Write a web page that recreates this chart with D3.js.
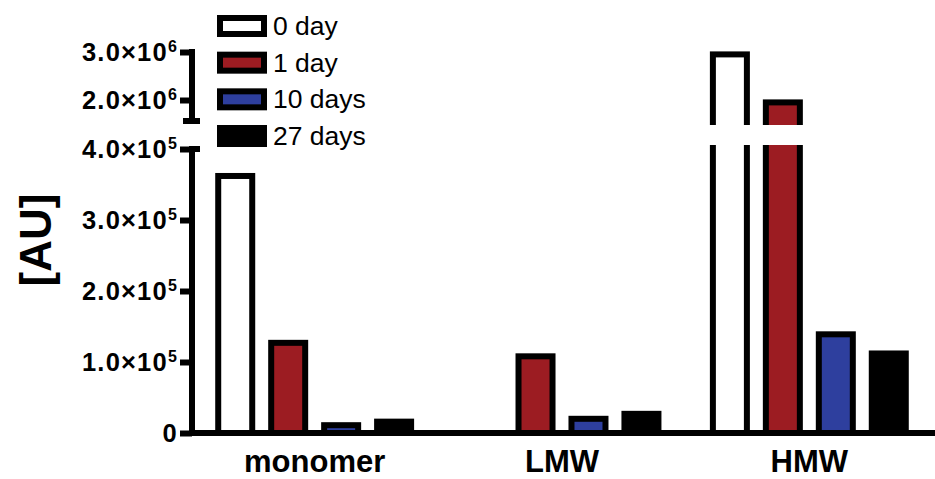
<!DOCTYPE html>
<html>
<head>
<meta charset="utf-8">
<script src="https://cdn.jsdelivr.net/npm/d3@7"></script>
<style>
  body { margin: 0; background: #fff; }
  text { font-family: Arial, "Liberation Sans", Helvetica, sans-serif; }
</style>
</head>
<body>
<div id="chart"></div>
<script>
// groups and series
const groups = ["monomer", "LMW", "HMW"]
const series = ["0 day", "1 day", "10 days", "27 days"]

// values (AU)
const day0 = [362000, 0, 2950000]
const day1 = [127000, 108000, 1950000]
const day10 = [11000, 20000, 139000]
const day27 = [16000, 27000, 112000]

const lowerTicks = [0, 100000, 200000, 300000, 400000]
const upperTicks = [2000000, 3000000]

const colors = ["#ffffff", "#9c1c22", "#2e3f9e", "#000000"]

const width = 935
const height = 479
const sw = 6

const svg = d3.select("#chart")
  .append("svg")
  .attr("width", width)
  .attr("height", height)

// broken y axis: two linear pieces
const yLow = d3.scaleLinear().domain([0, 400000]).range([433, 149])
const yHigh = d3.scaleLinear().domain([1500000, 3000000]).range([124, 52])
const y = v => v > 400000 ? yHigh(v) : yLow(v)
const gapTop = 125, gapBottom = 145

const x0 = d3.scaleBand().domain(groups).range([191, 933]).padding(0)
const x1 = d3.scaleBand().domain(series).range([0, x0.bandwidth()])
  .paddingInner(0.358).paddingOuter(0.514)

const allSeries = [day0, day1, day10, day27]
const bars = []
groups.forEach((g, gi) => {
  series.forEach((s, si) => {
    bars.push({ group: g, series: s, si: si, value: allSeries[si][gi] })
  })
})

// bars
svg.append("g")
  .selectAll("rect")
  .data(bars.filter(d => d.value > 0))
  .enter().append("rect")
  .attr("x", d => x0(d.group) + x1(d.series))
  .attr("y", d => y(d.value))
  .attr("width", x1.bandwidth())
  .attr("height", d => yLow(0) - y(d.value))
  .attr("fill", d => colors[d.si])
  .attr("stroke", "#000")
  .attr("stroke-width", sw)

// white gap across bars that go over the break
svg.append("g")
  .selectAll("rect")
  .data(bars.filter(d => d.value > 400000))
  .enter().append("rect")
  .attr("x", d => x0(d.group) + x1(d.series) - sw)
  .attr("y", gapTop)
  .attr("width", x1.bandwidth() + sw * 2)
  .attr("height", gapBottom - gapTop)
  .attr("fill", "#fff")

// y axis, lower and upper pieces
const axisX = 192
const lowAxis = svg.append("g")
  .attr("transform", `translate(${axisX},0)`)
  .call(d3.axisLeft(yLow).tickValues(lowerTicks).tickSize(12).tickSizeOuter(0).tickFormat(""))
const highAxis = svg.append("g")
  .attr("transform", `translate(${axisX},0)`)
  .call(d3.axisLeft(yHigh).tickValues(upperTicks).tickSize(12).tickSizeOuter(0).tickFormat(""))

svg.selectAll(".domain, .tick line")
  .attr("stroke", "#000")
  .attr("stroke-width", sw)

// extend the ends so the end ticks join cleanly
highAxis.select(".domain").attr("d", `M0,${yHigh(3000000) - sw / 2}V${yHigh(1500000)}`)
lowAxis.select(".domain").attr("d", `M0,${yLow(400000) - sw / 2}V${yLow(0)}`)

// caps at the break
svg.append("line")
  .attr("x1", axisX - 9).attr("x2", axisX + 8)
  .attr("y1", yHigh(1500000) - 3).attr("y2", yHigh(1500000) - 3)
  .attr("stroke", "#000").attr("stroke-width", sw)
svg.append("line")
  .attr("x1", axisX).attr("x2", axisX + 8)
  .attr("y1", yLow(400000)).attr("y2", yLow(400000))
  .attr("stroke", "#000").attr("stroke-width", sw)

// tick labels like 3.0×10^5
function tickLabel(sel, scale, ticks) {
  const t = sel.selectAll(null)
    .data(ticks)
    .enter().append("text")
    .attr("x", 178)
    .attr("y", d => scale(d) + 9)
    .attr("text-anchor", "end")
    .attr("font-size", 25.5)
    .attr("font-weight", "bold")
    .attr("letter-spacing", 1.2)
  t.each(function(d) {
    const el = d3.select(this)
    if (d === 0) { el.text("0"); return }
    const e = Math.floor(Math.log10(d))
    const m = d / Math.pow(10, e)
    el.append("tspan").text(m.toFixed(1) + "×10")
    el.append("tspan").attr("dy", -9).attr("font-size", 16).text(e)
  })
}
tickLabel(svg, yLow, lowerTicks)
tickLabel(svg, yHigh, upperTicks)

// x axis
svg.append("line")
  .attr("x1", axisX - sw / 2).attr("x2", width)
  .attr("y1", yLow(0)).attr("y2", yLow(0))
  .attr("stroke", "#000").attr("stroke-width", sw)

svg.append("g")
  .selectAll("text")
  .data(groups)
  .enter().append("text")
  .attr("x", d => x0(d) + x0.bandwidth() / 2)
  .attr("y", 472)
  .attr("text-anchor", "middle")
  .attr("font-size", 31)
  .attr("font-weight", "bold")
  .text(d => d)

// y label
svg.append("text")
  .attr("transform", "translate(51,240) rotate(-90)")
  .attr("text-anchor", "middle")
  .attr("font-size", 44)
  .attr("font-weight", "bold")
  .text("[AU]")

// legend
const ly = d3.scalePoint().domain(series).range([26, 136])
const legend = svg.append("g")
  .selectAll("g")
  .data(series)
  .enter().append("g")
  .attr("transform", d => `translate(0,${ly(d)})`)
legend.append("rect")
  .attr("x", 220).attr("y", -8)
  .attr("width", 44).attr("height", 16)
  .attr("fill", (d, i) => colors[i])
  .attr("stroke", "#000")
  .attr("stroke-width", sw)
legend.append("text")
  .attr("x", 273).attr("y", 9)
  .attr("font-size", 26.5)
  .text(d => d)
</script>
</body>
</html>
